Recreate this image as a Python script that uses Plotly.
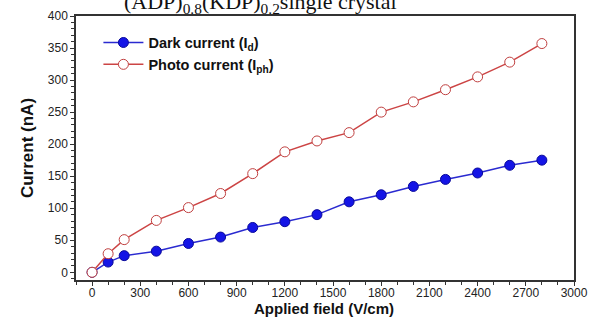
import plotly.graph_objects as go

field = [0, 100, 200, 400, 600, 800, 1000, 1200, 1400, 1600, 1800, 2000, 2200, 2400, 2600, 2800]
dark_current = [0, 16, 26, 33, 45, 55, 70, 79, 90, 110, 121, 134, 145, 155, 167, 175]
photo_current = [0, 29, 51, 81, 101, 123, 154, 188, 205, 218, 250, 266, 285, 305, 328, 357]

x_ticks = [0, 300, 600, 900, 1200, 1500, 1800, 2100, 2400, 2700, 3000]
y_ticks = [0, 50, 100, 150, 200, 250, 300, 350, 400]

fig = go.Figure()
fig.add_trace(go.Scatter(
    x=field, y=dark_current, mode="lines+markers",
    name="<b>Dark current (I<sub>d</sub>)</b>",
    line=dict(color="#2a2ad0", width=1.5),
    marker=dict(symbol="circle", size=10, color="#1414e6",
                line=dict(color="#0a0a9a", width=1)),
))
fig.add_trace(go.Scatter(
    x=field, y=photo_current, mode="lines+markers",
    name="<b>Photo current (I<sub>ph</sub>)</b>",
    line=dict(color="#cc4444", width=1.5),
    marker=dict(symbol="circle", size=10, color="white",
                line=dict(color="#c04040", width=1)),
))

axis_font = dict(family="Liberation Sans, Arial, sans-serif", size=12, color="#222")

fig.update_layout(
    width=592, height=320,
    margin=dict(l=76, r=18, t=16, b=40),
    paper_bgcolor="white", plot_bgcolor="white",
    showlegend=True,
    legend=dict(x=0.045, y=0.96, xanchor="left", yanchor="top",
                bgcolor="rgba(0,0,0,0)",
                font=dict(family="Liberation Sans, Arial, sans-serif", size=14.5, color="#111"),
                tracegroupgap=0, itemwidth=40),
    font=axis_font,
)
fig.update_xaxes(
    range=[-100, 3000], tickvals=x_ticks, ticktext=[str(v) for v in x_ticks],
    showgrid=False, zeroline=False, automargin=False,
    showline=True, linecolor="#333", linewidth=1.5, mirror=True,
    ticks="outside", ticklen=4, tickwidth=1, tickcolor="#333",
    ticklabelstandoff=-3,
    minor=dict(dtick=100, tick0=0, ticks="outside", ticklen=3, tickcolor="#333", showgrid=False),
    tickfont=axis_font,
)
fig.update_yaxes(
    range=[-12, 400], tickvals=y_ticks, ticktext=[str(v) for v in y_ticks],
    showgrid=False, zeroline=False, automargin=False,
    showline=True, linecolor="#333", linewidth=1.5, mirror=True,
    ticks="outside", ticklen=4, tickwidth=1, tickcolor="#333",
    minor=dict(dtick=10, tick0=0, ticks="outside", ticklen=3, tickcolor="#333", showgrid=False),
    title=dict(text="<b>Current (nA)</b>",
               font=dict(family="Liberation Sans Narrow, Arial Narrow, Liberation Sans, sans-serif", size=17, color="#111"),
               standoff=10),
    tickfont=axis_font,
)

# x-axis title placed as annotation to match reference spacing
fig.add_annotation(
    text="<b>Applied field (V/cm)</b>",
    xref="paper", yref="paper", x=0.498, y=-0.108, xanchor="center", yanchor="middle",
    showarrow=False,
    font=dict(family="Liberation Sans, Arial, sans-serif", size=15, color="#111"),
)

fig.add_annotation(
    text="(ADP)<sub>0.8</sub>(KDP)<sub>0.2</sub>single crystal",
    xref="paper", yref="paper", x=0.37, y=1.0, xanchor="center", yanchor="bottom",
    yshift=-3, showarrow=False,
    font=dict(family="Liberation Serif, Times New Roman, serif", size=22, color="#111"),
)

fig.write_html("out.html", config={"displayModeBar": False},
               post_script="document.body.style.margin='0';")
